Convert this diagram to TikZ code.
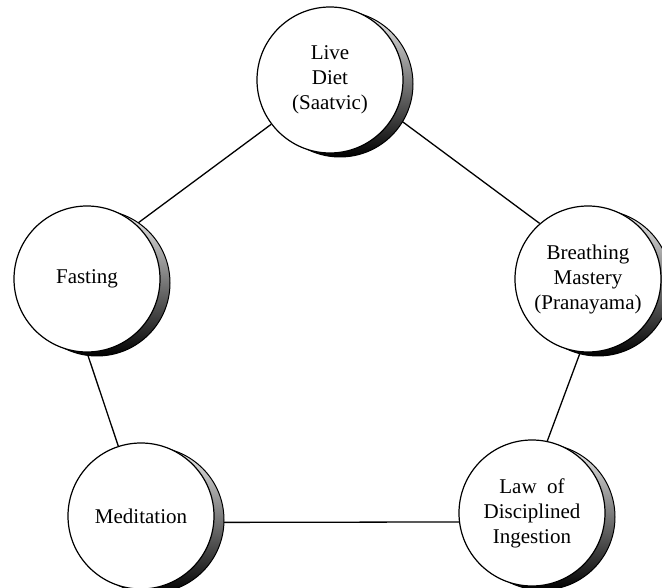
\documentclass[tikz,border=0pt]{standalone}
\usepackage{fontspec}
\setmainfont{Liberation Serif}
\usetikzlibrary{shadows,backgrounds}
\begin{document}
\begin{tikzpicture}[x=1pt,y=-1pt,
  circ/.style={circle, draw=black, line width=1.2pt, fill=white,
    minimum size=146pt, inner sep=0pt, align=center,
    font=\fontsize{21}{25}\selectfont,
    general shadow={shadow xshift=10pt, shadow yshift=-4pt,
      top color=gray!15, bottom color=black, draw=black, line width=1pt}},
  link/.style={line width=1.3pt}]
\useasboundingbox (0,0) rectangle (662,588);
\node[circ] (T) at (330,80)  {Live\\Diet\\(Saatvic)};
\node[circ] (B) at (588,279) {Breathing\\Mastery\\(Pranayama)};
\node[circ] (L) at (532,513) {Law\ \ of\\Disciplined\\Ingestion};
\node[circ] (M) at (141,516) {Meditation};
\node[circ] (F) at (87,279)  {Fasting};
\begin{pgfonlayer}{background}
\draw[link] (T.217) -- (F.48);
\draw[link] (T.331) -- (B.131);
\draw[link] (B.264) -- (L.78);
\draw[link] (F.270) -- (M.108);
\draw[link] (M.355) -- (L.187);
\end{pgfonlayer}
\end{tikzpicture}
\end{document}
